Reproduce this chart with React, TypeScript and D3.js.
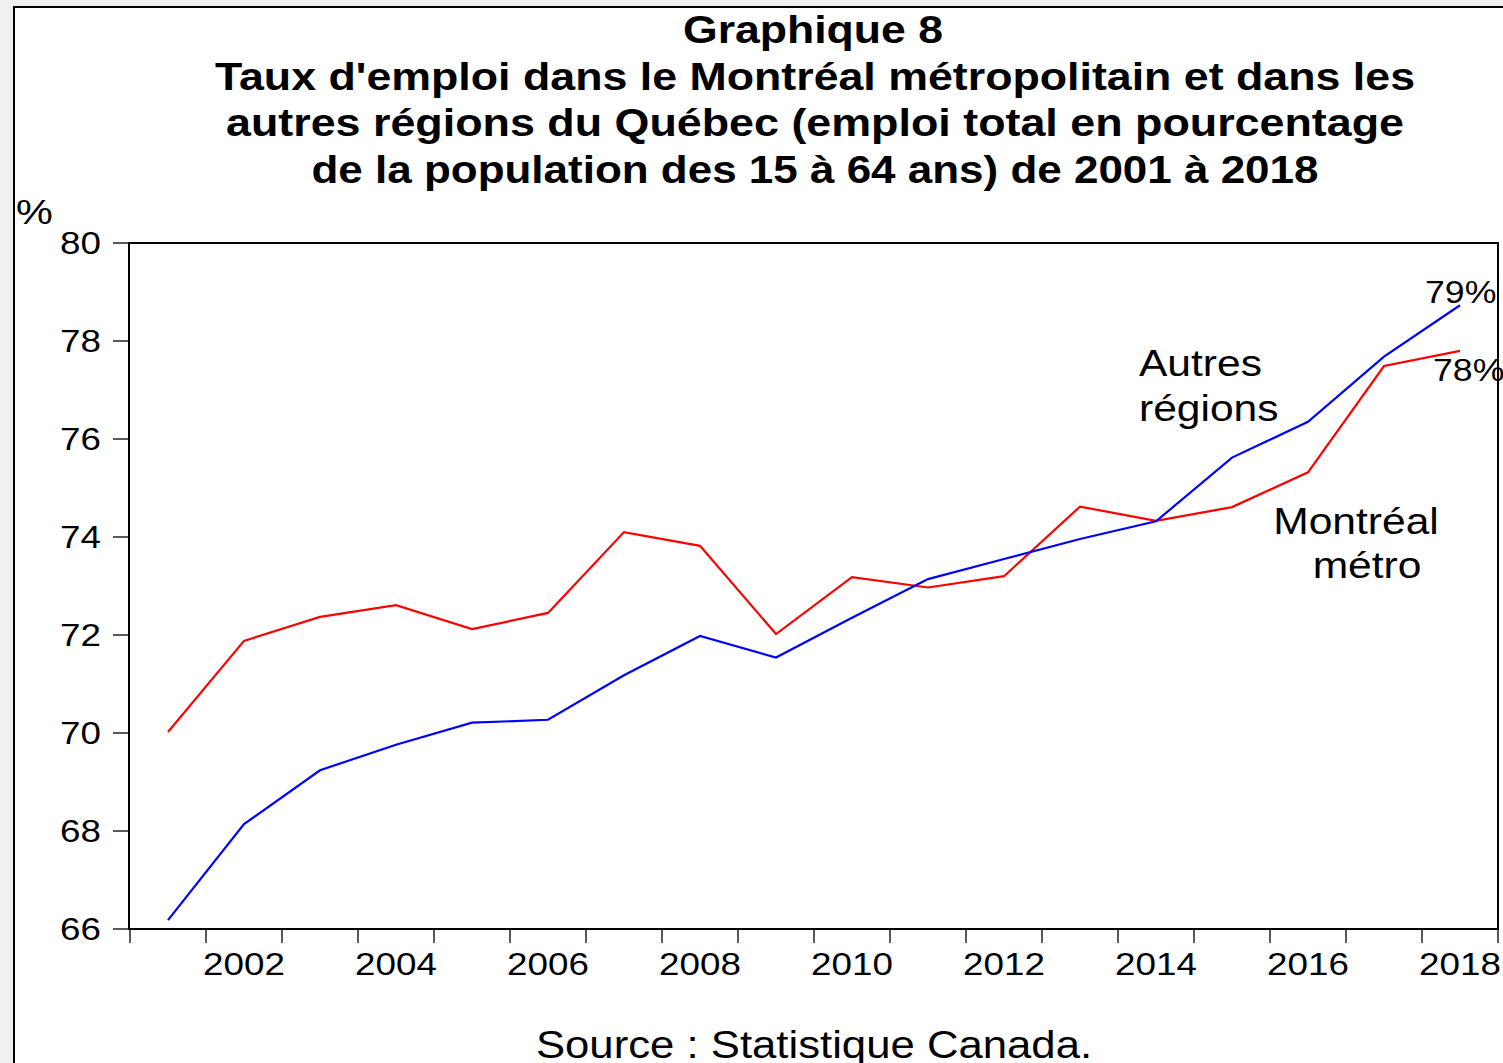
import React from "react";
import * as d3 from "d3";

const years = [2001, 2002, 2003, 2004, 2005, 2006, 2007, 2008, 2009, 2010, 2011, 2012, 2013, 2014, 2015, 2016, 2017, 2018];
const montreal = [70.02, 71.88, 72.37, 72.61, 72.12, 72.45, 74.1, 73.82, 72.02, 73.18, 72.97, 73.2, 74.62, 74.33, 74.61, 75.32, 77.49, 77.8];
const autres = [66.18, 68.14, 69.24, 69.76, 70.21, 70.27, 71.18, 71.98, 71.54, 72.35, 73.14, 73.55, 73.96, 74.32, 75.62, 76.35, 77.68, 78.73];
const yTicks = [66, 68, 70, 72, 74, 76, 78, 80];
const xLabelYears = [2002, 2004, 2006, 2008, 2010, 2012, 2014, 2016, 2018];
const titleLines = [
  "Graphique 8",
  "Taux d'emploi dans le Montréal métropolitain et dans les",
  "autres régions du Québec (emploi total en pourcentage",
  "de la population des 15 à 64 ans) de 2001 à 2018",
];

const FONT = "'Liberation Sans', Arial, sans-serif";
const SX = 1.15;

function T({ x, y, size, anchor = "middle", weight = "normal", children }: any) {
  return (
    <text
      transform={`translate(${x},${y}) scale(${SX},1)`}
      fontSize={size}
      fontFamily={FONT}
      fontWeight={weight}
      textAnchor={anchor}
      fill="#000"
    >
      {children}
    </text>
  );
}

export default function App() {
  const W = 1503;
  const H = 1063;
  const x = d3.scaleLinear().domain([2000.5, 2018.5]).range([130, 1498]);
  const y = d3.scaleLinear().domain([66, 80]).range([929, 243]);
  const boundaries = d3.range(2000.5, 2019, 1);
  const line = d3
    .line<number>()
    .x((_, i) => x(years[i]))
    .y((d) => y(d));

  const titleWidths = [260, 1200, 1178, 1007];
  const titleX = [813, 815, 815, 815];
  const titleY = [43, 90, 136, 183];

  return (
    <svg
      width={W}
      height={H}
      style={{ position: "absolute", left: 0, top: 0, display: "block" }}
    >
      <rect x={0} y={0} width={W} height={H} fill="#f0f0f0" />
      <rect x={14} y={7} width={W + 20} height={H + 20} fill="#fff" stroke="#000" strokeWidth={2} />

      {titleLines.map((t, i) => (
        <text
          key={i}
          x={titleX[i]}
          y={titleY[i]}
          fontSize={38}
          fontWeight="bold"
          fontFamily={FONT}
          textAnchor="middle"
          textLength={titleWidths[i]}
          lengthAdjust="spacingAndGlyphs"
        >
          {t}
        </text>
      ))}

      <T x={16} y={224} size={36} anchor="start">%</T>

      {/* y ticks */}
      {yTicks.map((t) => (
        <g key={t}>
          <line x1={113} x2={129} y1={y(t)} y2={y(t)} stroke="#222" strokeWidth={1.5} />
          <T x={101} y={y(t) + 11} size={32} anchor="end">{t}</T>
        </g>
      ))}

      {/* x ticks */}
      {boundaries.map((b) => (
        <line key={b} x1={x(b)} x2={x(b)} y1={929} y2={943} stroke="#222" strokeWidth={1.5} />
      ))}
      {xLabelYears.map((yr) => (
        <T key={yr} x={x(yr)} y={975} size={32}>{yr}</T>
      ))}

      {/* frame */}
      <rect x={129} y={243} width={1369} height={686} fill="none" stroke="#000" strokeWidth={2} />

      <path d={line(montreal) || ""} fill="none" stroke="#ff0000" strokeWidth={2.2} strokeLinejoin="miter" />
      <path d={line(autres) || ""} fill="none" stroke="#0000ff" strokeWidth={2.2} strokeLinejoin="miter" />

      <T x={1139} y={376} size={37} anchor="start">Autres</T>
      <T x={1139} y={421} size={37} anchor="start">régions</T>
      <T x={1356} y={534} size={37}>Montréal</T>
      <T x={1367} y={578} size={37}>métro</T>
      <T x={1425} y={303} size={31} anchor="start">79%</T>
      <T x={1433} y={381} size={31} anchor="start">78%</T>

      <T x={814} y={1058} size={38}>Source : Statistique Canada.</T>
    </svg>
  );
}
